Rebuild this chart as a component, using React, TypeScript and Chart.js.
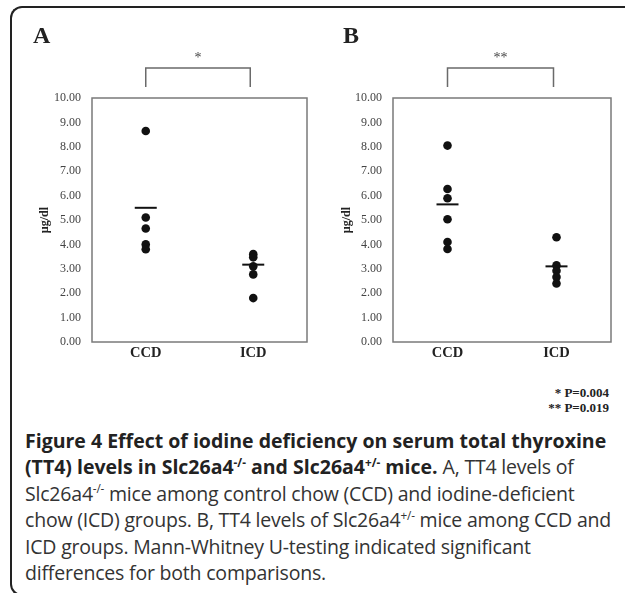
import React, { useEffect, useRef } from "react";
import { Chart, registerables } from "chart.js";

Chart.register(...registerables);

const categories = ["CCD", "ICD"];
const yTicks = [0, 1, 2, 3, 4, 5, 6, 7, 8, 9, 10];
const ccdA = [8.65, 5.1, 4.65, 4.0, 3.8];
const icdA = [3.6, 3.47, 3.1, 2.77, 1.8];
const meanA = [5.5, 3.17];
const ccdB = [8.05, 6.27, 5.89, 5.03, 4.1, 3.81];
const icdB = [4.29, 3.14, 2.92, 2.66, 2.4];
const meanB = [5.64, 3.1];
const panelLabels = ["A", "B"];
const sigMarks = ["*", "**"];
const pValues = ["* P=0.004", "** P=0.019"];

const SERIF = "'Liberation Serif', 'Times New Roman', serif";

function makeConfig(ccd: number[], icd: number[], mean: number[], sig: string, axisW: number, rightPad: number, titlePad: number) {
  const pts = [
    ...ccd.map((v) => ({ x: 1, y: v })),
    ...icd.map((v) => ({ x: 2, y: v })),
  ];
  const meanPts = mean.map((v, i) => ({ x: i + 1, y: v }));
  const framePlugin = {
    id: "frameBracket",
    beforeDatasetsDraw(chart: any) {
      const { ctx, chartArea } = chart;
      ctx.save();
      ctx.strokeStyle = "#7a7a7a";
      ctx.lineWidth = 1.5;
      ctx.strokeRect(chartArea.left, chartArea.top, chartArea.right - chartArea.left, chartArea.bottom - chartArea.top);
      ctx.restore();
    },
    afterDraw(chart: any) {
      const { ctx, chartArea, scales } = chart;
      const x1 = scales.x.getPixelForValue(1);
      const x2 = scales.x.getPixelForValue(2) - 3;
      const top = chartArea.top - 30;
      const bot = chartArea.top - 11;
      ctx.save();
      ctx.strokeStyle = "#6a6a6a";
      ctx.lineWidth = 1.5;
      ctx.beginPath();
      ctx.moveTo(x1, bot);
      ctx.lineTo(x1, top);
      ctx.lineTo(x2, top);
      ctx.lineTo(x2, bot);
      ctx.stroke();
      ctx.fillStyle = "#444";
      ctx.font = `14px ${SERIF}`;
      ctx.textAlign = "center";
      ctx.textBaseline = "middle";
      ctx.fillText(sig, (x1 + x2) / 2, top - 10);
      ctx.restore();
    },
  };
  return {
    type: "scatter" as const,
    data: {
      datasets: [
        {
          label: "mean",
          data: meanPts,
          pointStyle: "line",
          pointRadius: 11,
          borderWidth: 2,
          borderColor: "#111",
          backgroundColor: "#111",
          showLine: false,
        },
        {
          label: "values",
          data: pts,
          pointStyle: "circle",
          pointRadius: 4.3,
          borderWidth: 0,
          backgroundColor: "#111",
          borderColor: "#111",
          showLine: false,
        },
      ],
    },
    options: {
      animation: false,
      responsive: false,
      events: [],
      layout: { padding: { top: 78, right: rightPad, left: 0, bottom: 0 } },
      plugins: { legend: { display: false }, tooltip: { enabled: false } },
      scales: {
        x: {
          type: "linear",
          min: 0.5,
          max: 2.5,
          grid: { display: false, drawTicks: false },
          border: { display: false },
          afterBuildTicks: (s: any) => {
            s.ticks = categories.map((_, i) => ({ value: i + 1 }));
          },
          afterFit: (s: any) => {
            s.height = 28;
          },
          ticks: {
            padding: 3,
            color: "#222",
            font: { family: SERIF, size: 14.5, weight: "bold" },
            callback: (v: any) => categories[Math.round(v) - 1] ?? "",
          },
        },
        y: {
          type: "linear",
          min: yTicks[0],
          max: yTicks[yTicks.length - 1],
          grid: { display: false, drawTicks: false },
          border: { display: false },
          afterBuildTicks: (s: any) => {
            s.ticks = yTicks.map((v) => ({ value: v }));
          },
          afterFit: (s: any) => {
            s.width = axisW;
          },
          ticks: {
            padding: 11,
            color: "#444",
            font: { family: SERIF, size: 12 },
            callback: (v: any) => Number(v).toFixed(2),
          },
          title: {
            display: true,
            text: "µg/dl",
            color: "#222",
            font: { family: SERIF, size: 12, weight: "bold" },
            padding: { top: titlePad, bottom: 0 },
          },
        },
      },
    },
    plugins: [framePlugin],
  };
}

function Panel({ left, width, cfg }: { left: number; width: number; cfg: any }) {
  const ref = useRef<HTMLCanvasElement | null>(null);
  useEffect(() => {
    if (!ref.current) return;
    const chart = new Chart(ref.current, cfg);
    return () => chart.destroy();
  }, []);
  return (
    <canvas
      ref={ref}
      width={width}
      height={350}
      style={{ position: "absolute", left, top: 20, width, height: 350 }}
    />
  );
}

const sup = (t: string) => (
  <sup style={{ fontSize: "0.6em", lineHeight: 0, verticalAlign: "baseline", position: "relative", top: "-0.65em" }}>{t}</sup>
);

const reg: React.CSSProperties = { fontWeight: 400, color: "#333", letterSpacing: "-0.2px" };

export default function App() {
  const cfgA = makeConfig(ccdA, icdA, meanA, sigMarks[0], 72, 13, 18);
  const cfgB = makeConfig(ccdB, icdB, meanB, sigMarks[1], 73, 14, 20);
  return (
    <div style={{ position: "absolute", left: 0, top: 0, width: 625, height: 593, background: "#fff", overflow: "hidden" }}>
      <div
        style={{
          position: "absolute",
          left: 10,
          top: 6,
          width: 640,
          height: 586,
          borderLeft: "2px solid #222",
          borderTop: "2px solid #222",
          borderBottom: "2px solid #222",
          borderTopLeftRadius: 12,
          borderBottomLeftRadius: 12,
        }}
      />
      <Panel left={20} width={300} cfg={cfgA} />
      <Panel left={320} width={305} cfg={cfgB} />
      <div style={{ position: "absolute", left: 33, top: 22, font: `bold 24px ${SERIF}`, color: "#222" }}>{panelLabels[0]}</div>
      <div style={{ position: "absolute", left: 343, top: 22, font: `bold 24px ${SERIF}`, color: "#222" }}>{panelLabels[1]}</div>
      <div style={{ position: "absolute", right: 16, top: 385, font: `bold 13px ${SERIF}`, color: "#222", textAlign: "right", lineHeight: "15px" }}>
        <div>{pValues[0]}</div>
        <div>{pValues[1]}</div>
      </div>
      <div
        style={{
          position: "absolute",
          left: 25,
          top: 428,
          fontFamily: "'Open Sans', sans-serif",
          fontSize: 19.5,
          lineHeight: "26.4px",
          color: "#222",
          fontWeight: 700,
          whiteSpace: "nowrap",
        }}
      >
        <div>Figure 4 Effect of iodine deficiency on serum total thyroxine</div>
        <div>
          (TT4) levels in Slc26a4{sup("-/-")} and Slc26a4{sup("+/-")} mice. <span style={reg}>A, TT4 levels of</span>
        </div>
        <div style={reg}>Slc26a4{sup("-/-")} mice among control chow (CCD) and iodine-deficient</div>
        <div style={reg}>chow (ICD) groups. B, TT4 levels of Slc26a4{sup("+/-")} mice among CCD and</div>
        <div style={reg}>ICD groups. Mann-Whitney U-testing indicated significant</div>
        <div style={reg}>differences for both comparisons.</div>
      </div>
    </div>
  );
}
